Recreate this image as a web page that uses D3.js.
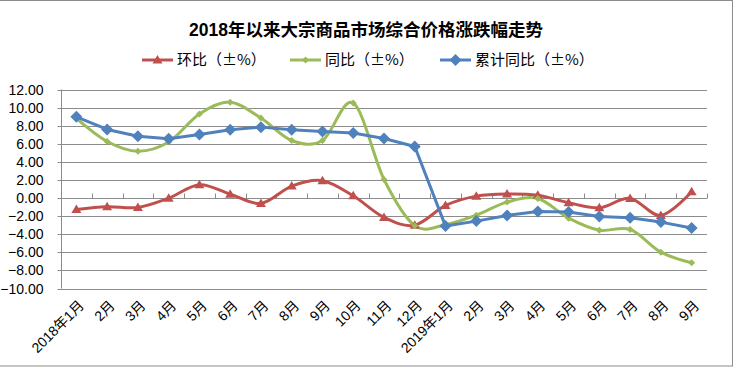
<!DOCTYPE html>
<html>
<head>
<meta charset="utf-8">
<script src="https://cdn.jsdelivr.net/npm/d3@7"></script>
<style>
  body { margin: 0; background: #fff; }
  text { font-family: "Liberation Sans", "Noto Sans CJK SC", sans-serif; }
</style>
</head>
<body>
<div id="chart"></div>
<script>
// categories (months)
var months = ["2018年1月","2月","3月","4月","5月","6月","7月","8月","9月","10月","11月","12月",
              "2019年1月","2月","3月","4月","5月","6月","7月","8月","9月"];

// 环比 (month on month)
var huanbi = [-1.26, -0.96, -1.04, -0.02, 1.47, 0.43, -0.6, 1.32, 1.92, 0.25, -2.14, -3.0,
              -0.82, 0.21, 0.45, 0.3, -0.52, -1.07, -0.04, -1.92, 0.7];
// 同比 (year on year)
var tongbi = [8.8, 6.25, 5.18, 6.2, 9.3, 10.6, 8.85, 6.36, 6.36, 10.5, 2.05, -3.05,
              -2.95, -1.89, -0.45, -0.05, -2.22, -3.55, -3.47, -5.98, -7.15];
// 累计同比 (cumulative year on year)
var leiji = [8.98, 7.58, 6.84, 6.55, 7.03, 7.55, 7.84, 7.55, 7.36, 7.18, 6.58, 5.7,
             -3.1, -2.55, -1.92, -1.48, -1.55, -2.03, -2.18, -2.66, -3.32];

var yTicks = [12, 10, 8, 6, 4, 2, 0, -2, -4, -6, -8, -10];

var seriesNames = ["环比（±%）", "同比（±%）", "累计同比（±%）"];
var seriesColors = ["#C0504D", "#9BBB59", "#4F81BD"];

var width = 736, height = 369;
var margin = {top: 89.5, right: 29, bottom: 80, left: 61};

var svg = d3.select("#chart").append("svg")
    .attr("width", width)
    .attr("height", height);

// outer border
svg.append("rect")
    .attr("x", -1).attr("y", 0.5)
    .attr("width", 733.5).attr("height", 365.5)
    .attr("fill", "none")
    .attr("stroke", "#8c8c8c")
    .attr("stroke-width", 1);

var x = d3.scaleBand()
    .domain(d3.range(months.length))
    .range([margin.left, width - margin.right])
    .padding(0);

var y = d3.scaleLinear()
    .domain([-10, 12])
    .range([288.5, margin.top]);

function cx(i) { return x(i) + x.bandwidth() / 2; }

// gridlines
svg.append("g").selectAll("line").data(yTicks).enter()
    .append("line")
    .attr("x1", margin.left).attr("x2", width - margin.right)
    .attr("y1", function (d) { return Math.round(y(d)) + 0.5; })
    .attr("y2", function (d) { return Math.round(y(d)) + 0.5; })
    .attr("stroke", "#8c8c8c")
    .attr("stroke-width", 1);

// y axis
var yAxis = svg.append("g")
    .attr("transform", "translate(" + (margin.left + 0.5) + ",0)");
yAxis.append("line")
    .attr("y1", y(12)).attr("y2", y(-10))
    .attr("stroke", "#8c8c8c");
yAxis.selectAll(".tk").data(yTicks).enter()
    .append("line")
    .attr("x1", -4).attr("x2", 0)
    .attr("y1", function (d) { return Math.round(y(d)) + 0.5; })
    .attr("y2", function (d) { return Math.round(y(d)) + 0.5; })
    .attr("stroke", "#8c8c8c");
yAxis.selectAll("text").data(yTicks).enter()
    .append("text")
    .attr("x", -18)
    .attr("y", function (d) { return y(d); })
    .attr("dy", "0.36em")
    .attr("text-anchor", "end")
    .attr("font-size", 14)
    .attr("fill", "#000")
    .text(function (d) { return d3.format(".2f")(d); });

// x axis line at zero with upward ticks at category boundaries
var zeroY = Math.round(y(0)) + 0.5;
var bounds = d3.range(months.length + 1).map(function (i) {
    return i < months.length ? x(i) : x(months.length - 1) + x.bandwidth();
});
svg.append("g").selectAll("line").data(bounds.slice(1)).enter()
    .append("line")
    .attr("x1", function (d) { return Math.round(d) + 0.5; })
    .attr("x2", function (d) { return Math.round(d) + 0.5; })
    .attr("y1", zeroY - 5).attr("y2", zeroY)
    .attr("stroke", "#8c8c8c");

// x labels
svg.append("g").selectAll("text").data(months).enter()
    .append("text")
    .attr("transform", function (d, i) {
        return "translate(" + (cx(i) + 5) + ",303) rotate(-45)";
    })
    .attr("text-anchor", "end")
    .attr("dy", "0.35em")
    .attr("font-size", 14)
    .attr("fill", "#000")
    .text(function (d) { return d; });

// series
var allData = [huanbi, tongbi, leiji];
var curves = [d3.curveCardinal.tension(0), d3.curveCardinal.tension(0), d3.curveLinear];

allData.forEach(function (vals, k) {
    var line = d3.line()
        .x(function (d, i) { return cx(i); })
        .y(function (d) { return y(d); })
        .curve(curves[k]);
    svg.append("path")
        .datum(vals)
        .attr("d", line)
        .attr("fill", "none")
        .attr("stroke", seriesColors[k])
        .attr("stroke-width", 3)
        .attr("stroke-linejoin", "round");
});

function marker(sel, k, px, py) {
    if (k === 0) {
        sel.append("path")
            .attr("d", "M" + px + "," + (py - 5) + "L" + (px + 5) + "," + (py + 3.5) + "L" + (px - 5) + "," + (py + 3.5) + "Z")
            .attr("fill", seriesColors[0]);
    } else if (k === 1) {
        sel.append("path")
            .attr("d", "M" + px + "," + (py - 3.5) + "L" + (px + 3.5) + "," + py + "L" + px + "," + (py + 3.5) + "L" + (px - 3.5) + "," + py + "Z")
            .attr("fill", seriesColors[1]);
    } else {
        sel.append("path")
            .attr("d", "M" + px + "," + (py - 6) + "L" + (px + 6) + "," + py + "L" + px + "," + (py + 6) + "L" + (px - 6) + "," + py + "Z")
            .attr("fill", seriesColors[2]);
    }
}

allData.forEach(function (vals, k) {
    var g = svg.append("g");
    vals.forEach(function (v, i) { marker(g, k, cx(i), y(v)); });
});

// title
svg.append("text")
    .attr("x", 366).attr("y", 36)
    .attr("text-anchor", "middle")
    .attr("font-size", 17.5)
    .attr("font-weight", "bold")
    .attr("fill", "#000")
    .text("2018年以来大宗商品市场综合价格涨跌幅走势");

// legend
var legendX = [142, 290, 440];
seriesNames.forEach(function (name, k) {
    var g = svg.append("g");
    g.append("line")
        .attr("x1", legendX[k]).attr("x2", legendX[k] + 31)
        .attr("y1", 60).attr("y2", 60)
        .attr("stroke", seriesColors[k])
        .attr("stroke-width", 3);
    marker(g, k, legendX[k] + 15.5, 60);
    g.append("text")
        .attr("x", legendX[k] + 35).attr("y", 60)
        .attr("dy", "0.36em")
        .attr("font-size", 15)
        .style("font-family", "'Noto Sans CJK SC', sans-serif")
        .attr("fill", "#000")
        .text(name);
});
</script>
</body>
</html>
